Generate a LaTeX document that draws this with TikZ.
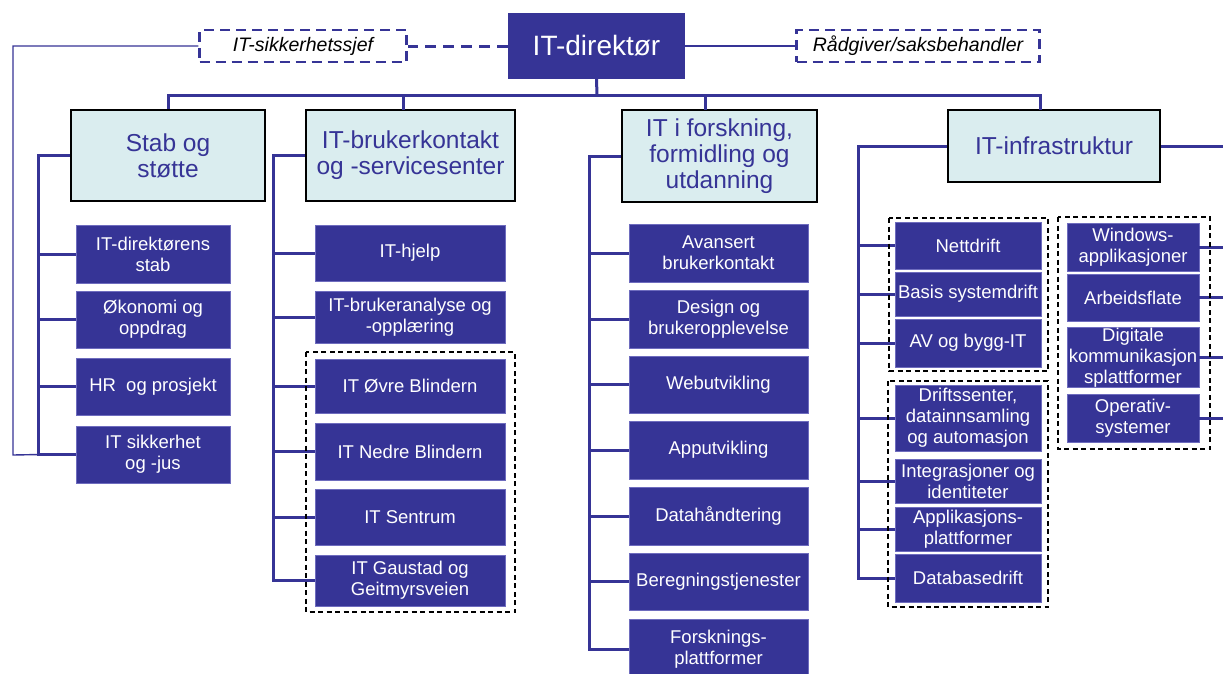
\documentclass[tikz,border=0pt]{standalone}
\usepackage{fontspec}
\setmainfont{Liberation Sans}
\usepackage{tikz}
\usetikzlibrary{calc}
\definecolor{itblue}{RGB}{54,52,150}
\definecolor{itlight}{RGB}{218,237,239}
\definecolor{itedge}{RGB}{110,108,190}
\tikzset{
	wh/.style 2 args={minimum width=#1pt, minimum height=#2pt},
	chief/.style={fill=itblue, text=white, inner sep=0, font=\fontsize{28}{30}\selectfont},
	dept/.style={fill=itlight, draw=black, line width=2.6pt, text=itblue, align=center, inner sep=0, font=\fontsize{24.5}{26}\selectfont},
	unit/.style={fill=itblue, draw=itedge, line width=.8pt, text=white, align=center, inner sep=0, font=\fontsize{18.5}{21}\selectfont},
	staff/.style={draw=itblue, line width=2.3pt, dash pattern=on 10pt off 6pt, inner sep=0, font=\itshape\fontsize{19.5}{21}\selectfont},
	group/.style={draw=black, line width=1.2pt, dash pattern=on 5pt off 3.5pt},
	bus/.style={draw=itblue, line width=3pt},
	thinline/.style={draw=itblue, line width=1.4pt}
}
\begin{document}
\begin{tikzpicture}[x=1pt,y=-1pt]
		\clip (0,0) rectangle (1223,673);
		\fill[white] (0,0) rectangle (1223,673);
		% top
		\node[chief, wh={177}{66}] (dir) at (596.5,46){IT-direktør};
		\node[staff, wh={207}{32}] (sjef) at (303,46){IT-sikkerhetssjef};
		\node[staff, wh={243}{32}] (rad) at (918,46){Rådgiver/saksbehandler};
		% departments
		\node[dept, wh={194}{91}] (stab) at (168,155.5){Stab og\\støtte};
		\node[dept, wh={209}{91}] (brk) at (410.5,155.5){IT-brukerkontakt\\og -servicesenter};
		\node[dept, wh={195}{92}] (forsk) at (719.5,156){IT i forskning,\\formidling og\\utdanning};
		\node[dept, wh={212}{72}] (infra) at (1054,146){IT-infrastruktur};
		% Stab og støtte
		\node[unit, wh={154}{58}] (s1) at (153,254){IT-direktørens\\stab};
		\node[unit, wh={154}{57}] (s2) at (153,319.5){Økonomi og\\oppdrag};
		\node[unit, wh={154}{57}] (s3) at (153,386.5){HR~ og prosjekt};
		\node[unit, wh={154}{57}] (s4) at (153,454.5){IT sikkerhet\\og -jus};
		% IT-brukerkontakt
		\node[unit, wh={190}{56}] (b1) at (410,253){IT-hjelp};
		\node[unit, wh={190}{52}] (b2) at (410,317){IT-brukeranalyse og\\-opplæring};
		\node[unit, wh={190}{54}] (b3) at (410,386){IT Øvre Blindern};
		\node[unit, wh={190}{57}] (b4) at (410,451.5){IT Nedre Blindern};
		\node[unit, wh={190}{56}] (b5) at (410,517){IT Sentrum};
		\node[unit, wh={190}{51}] (b6) at (410,580.5){IT Gaustad og\\Geitmyrsveien};
		% IT i forskning
		\node[unit, wh={179}{58}] (f1) at (718.5,253){Avansert\\brukerkontakt};
		\node[unit, wh={179}{58}] (f2) at (718.5,319){Design og\\brukeropplevelse};
		\node[unit, wh={179}{57}] (f3) at (718.5,384.5){Webutvikling};
		\node[unit, wh={179}{58}] (f4) at (718.5,450){Apputvikling};
		\node[unit, wh={179}{58}] (f5) at (718.5,516){Datahåndtering};
		\node[unit, wh={179}{57}] (f6) at (718.5,581.5){Beregningstjenester};
		\node[unit, wh={179}{60}] (f7) at (718.5,649.5){Forsknings-\\plattformer};
		% IT-infrastruktur
		\node[unit, wh={146}{47}] (i1) at (968,245.5){Nettdrift};
		\node[unit, wh={146}{44}] (i2) at (968,294){Basis systemdrift};
		\node[unit, wh={146}{48}] (i3) at (968,343){AV og bygg-IT};
		\node[unit, wh={146}{66}] (i4) at (968,418){Driftssenter,\\datainnsamling\\og automasjon};
		\node[unit, wh={146}{44}] (i5) at (968,481){Integrasjoner og\\identiteter};
		\node[unit, wh={146}{44}] (i6) at (968,529){Applikasjons-\\plattformer};
		\node[unit, wh={146}{48}] (i7) at (968,578){Databasedrift};
		\node[unit, wh={132}{48}] (r1) at (1133,247){Windows-\\applikasjoner};
		\node[unit, wh={132}{47}] (r2) at (1133,297.5){Arbeidsflate};
		\node[unit, wh={132}{59}] (r3) at (1133,357.5){Digitale\\kommunikasjon\\splattformer};
		\node[unit, wh={132}{48}] (r4) at (1133,418){Operativ-\\systemer};
		% bus
		\coordinate (bus) at (597,95);
		\coordinate (brktop) at (403,110);
		\coordinate (forsktop) at (705,110);
		\coordinate (infratop) at (1040,110);
		\coordinate (corner) at (13,455);
		\draw[bus] (dir.south) -- (bus);
		\draw[bus] (stab.north) |- (bus) -| (infratop);
		\draw[bus] (brktop) -- (brktop |- bus)
			(forsktop) -- (forsktop |- bus);
		\draw[bus, dash pattern=on 11pt off 7pt] (dir.west) -- (sjef.east);
		\draw[thinline] (dir.east) -- (rad.west);
		\draw[thinline] (sjef.west) -| (corner) -- ([xshift=-36pt]s4.west);
		% branches
		\draw[bus] (stab.west) -- ++(-31,0) |- (s4.west);
		\draw[bus] (s1.west) -- ++(-36,0) (s2.west) -- ++(-36,0) (s3.west) -- ++(-36,0);
		\draw[bus] (brk.west) -- ++(-31,0) |- (b6.west);
		\draw[bus] (b1.west) -- ++(-40,0) (b2.west) -- ++(-40,0) (b3.west) -- ++(-40,0)
			(b4.west) -- ++(-40,0) (b5.west) -- ++(-40,0);
		\draw[bus] (forsk.west) -- ++(-31,0) |- (f7.west);
		\draw[bus] (f1.west) -- ++(-38,0) (f2.west) -- ++(-38,0) (f3.west) -- ++(-38,0)
			(f4.west) -- ++(-38,0) (f5.west) -- ++(-38,0) (f6.west) -- ++(-38,0);
		\draw[bus] (infra.west) -- ++(-88,0) |- (i7.west);
		\draw[bus] (i1.west) -- ++(-35,0) (i2.west) -- ++(-35,0) (i3.west) -- ++(-35,0)
			(i4.west) -- ++(-35,0) (i5.west) -- ++(-35,0) (i6.west) -- ++(-35,0);
		\draw[bus] (infra.east) -- ++(70,0);
		\draw[bus] (r1.east) -- ++(30,0) (r2.east) -- ++(30,0) (r3.east) -- ++(30,0) (r4.east) -- ++(30,0);
		% groups
		\draw[group] (306,352) rectangle (515,612);
		\draw[group] (889,218) rectangle (1048,371);
		\draw[group] (888,381) rectangle (1048,607);
		\draw[group] (1058,217) rectangle (1210,449);
	\end{tikzpicture}
\end{document}
